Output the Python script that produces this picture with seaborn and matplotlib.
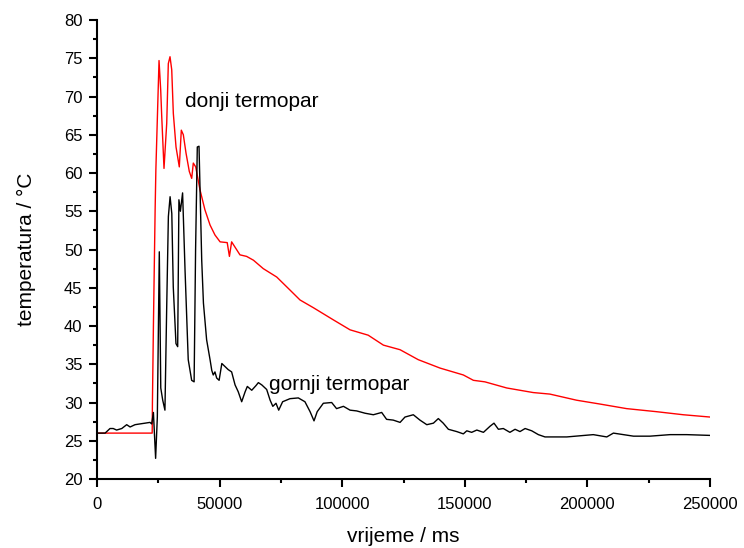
import pandas as pd
import seaborn as sns
import matplotlib.pyplot as plt
from matplotlib.ticker import MultipleLocator

# donji termopar (red)
t_donji = [0, 10000, 20000, 22500, 22600, 23000, 23700, 24000, 24350, 25290, 25980,
           26390, 27320, 28430, 29080, 29770, 30470, 31120, 32220, 33560, 34380,
           35200, 36300, 37640, 38620, 39270, 40250, 42000, 44000, 46100, 48100,
           50200, 53100, 54000, 54900, 58300, 61000, 63800, 67800, 73300, 78700,
           82800, 88200, 96400, 103200, 110600, 116800, 123600, 131000, 139900,
           149400, 153500, 158200, 167100, 177900, 184700, 195600, 205100, 216000,
           228200, 239100, 250000]
T_donji = [26.0, 26.0, 26.0, 26.0, 30.0, 40.0, 55.2, 60.4, 64.3, 74.7, 70.8,
           67.4, 60.6, 66.5, 74.3, 75.2, 73.5, 67.8, 63.4, 60.8, 65.6,
           65.0, 62.6, 60.2, 59.3, 61.3, 60.8, 57.8, 55.2, 53.2, 51.9,
           51.0, 50.9, 49.1, 51.0, 49.3, 49.1, 48.6, 47.5, 46.4, 44.7,
           43.4, 42.4, 40.8, 39.5, 38.8, 37.5, 36.9, 35.6, 34.5,
           33.6, 32.9, 32.7, 31.9, 31.3, 31.1, 30.3, 29.8, 29.2,
           28.8, 28.4, 28.1]

# gornji termopar (black)
t_gornji = [0, 1900, 3300, 5300, 6600, 8000, 10100, 12100, 13500, 15500, 17500,
            19600, 21600, 22300, 23000, 23900, 24600, 25400, 26000, 26800, 27700,
            28400, 29100, 29800, 30500, 31100, 32200, 32900, 33400, 34000, 34900,
            35900, 37200, 38600, 39600, 40200, 40900, 41600, 42700, 43400, 44700,
            46100, 46800, 47400, 48100, 48800, 49800, 50900, 52200, 53500, 54900,
            56300, 57600, 59000, 60400, 61300, 63100, 64800, 65800, 67200, 69200,
            70600, 71700, 73000, 74100, 75700, 78700, 82100, 84800, 86900, 88500,
            89800, 92300, 95700, 97700, 100500, 103200, 105900, 109300, 112700,
            116100, 118100, 120800, 123600, 125600, 129000, 131700, 134500, 137200,
            139200, 141200, 143300, 146700, 149400, 150800, 152800, 154900, 157600,
            160300, 161900, 163700, 165700, 168400, 170500, 172500, 174600, 177300,
            180000, 182700, 191600, 202400, 207900, 210600, 218800, 225500, 233700,
            240500, 250000]
T_gornji = [26.0, 26.0, 26.0, 26.6, 26.6, 26.4, 26.6, 27.1, 26.8, 27.1, 27.2,
            27.3, 27.4, 27.2, 28.7, 22.7, 28.1, 49.7, 31.9, 30.3, 29.0,
            42.1, 54.3, 56.9, 54.7, 45.1, 37.7, 37.3, 56.5, 55.0, 57.4,
            47.3, 35.6, 32.9, 32.7, 50.0, 63.4, 63.5, 48.6, 43.0, 38.2,
            35.6, 34.2, 33.6, 34.0, 33.2, 32.9, 35.1, 34.7, 34.3, 34.0,
            32.3, 31.4, 30.1, 31.4, 32.1, 31.6, 32.2, 32.6, 32.3, 31.7,
            30.3, 29.5, 29.9, 29.0, 30.1, 30.5, 30.6, 30.1, 28.8, 27.6,
            28.8, 29.9, 30.0, 29.2, 29.5, 29.0, 28.9, 28.6, 28.4,
            28.7, 27.8, 27.7, 27.4, 28.1, 28.4, 27.7, 27.1, 27.3,
            27.9, 27.3, 26.5, 26.2, 25.9, 26.3, 26.1, 26.4, 26.1,
            26.9, 27.3, 26.5, 26.6, 26.1, 26.5, 26.2, 26.6, 26.3,
            25.8, 25.5, 25.5, 25.8, 25.5, 26.0, 25.6, 25.6, 25.8,
            25.8, 25.7]

sns.set_style("ticks")
plt.rcParams['font.family'] = ['Liberation Sans', 'DejaVu Sans']
plt.rcParams['text.color'] = 'black'
plt.rcParams['axes.labelcolor'] = 'black'
plt.rcParams['xtick.color'] = 'black'
plt.rcParams['ytick.color'] = 'black'
plt.rcParams['axes.edgecolor'] = 'black'

fig = plt.figure(figsize=(7.44, 5.48), dpi=100)
ax = fig.add_axes([0.1304, 0.1259, 0.8239, 0.8376])

df_d = pd.DataFrame({'t': t_donji, 'T': T_donji})
df_g = pd.DataFrame({'t': t_gornji, 'T': T_gornji})
sns.lineplot(data=df_d, x='t', y='T', color='red', lw=1.0, ax=ax, estimator=None, sort=False)
sns.lineplot(data=df_g, x='t', y='T', color='black', lw=1.0, ax=ax, estimator=None, sort=False)

ax.set_xlim(0, 250000)
ax.set_ylim(20, 80)
ax.xaxis.set_major_locator(MultipleLocator(50000))
ax.xaxis.set_minor_locator(MultipleLocator(25000))
ax.yaxis.set_major_locator(MultipleLocator(5))
ax.yaxis.set_minor_locator(MultipleLocator(2.5))
ax.tick_params(which='major', length=6, width=1.5, labelsize=12, direction='out')
ax.tick_params(which='minor', length=3, width=1.5, direction='out')
ax.tick_params(axis='x', which='major', pad=7)
ax.tick_params(axis='y', which='major', pad=4.5)
for s in ['left', 'bottom']:
    ax.spines[s].set_linewidth(1.5)
sns.despine(ax=ax)

ax.set_xlabel('vrijeme / ms', fontsize=15, labelpad=11)
ax.set_ylabel('temperatura / °C', fontsize=15, labelpad=20)

ax.text(36000, 69.4, 'donji termopar', fontsize=15, va='center', ha='left')
ax.text(70000, 32.3, 'gornji termopar', fontsize=15, va='center', ha='left')

fig.savefig('out.png', dpi=100)
